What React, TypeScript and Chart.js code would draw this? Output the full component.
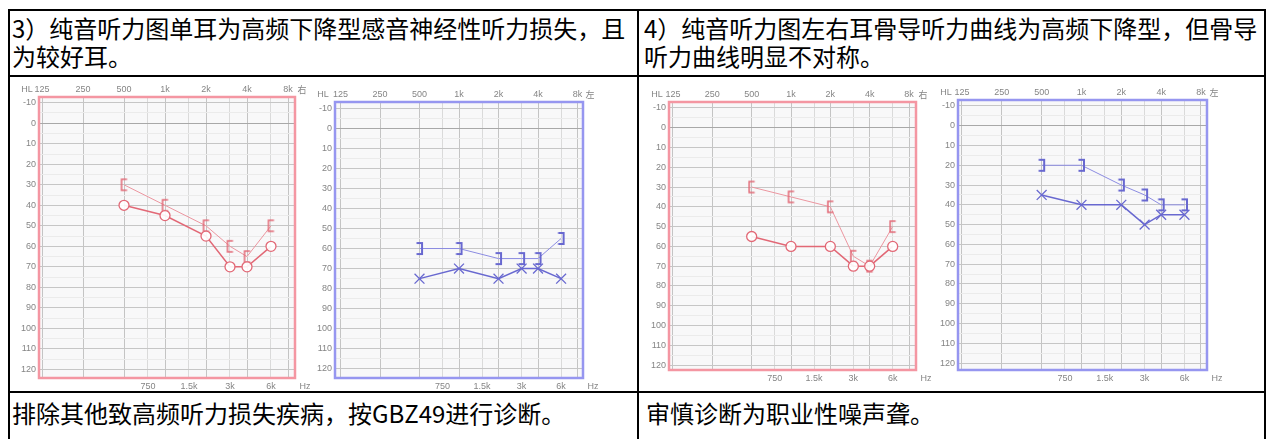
import React, { useEffect, useRef } from "react";
import { Chart, registerables } from "chart.js";

Chart.register(...registerables);

// ---------- data ----------
const freqs = [500, 1000, 2000, 3000, 4000, 6000];

const case3RightAir = [40, 45, 55, 70, 70, 60];
const case3RightBone = [30, 40, 50, 60, 65, 50];
const case3LeftAir = [75, 70, 75, 70, 70, 75];
const case3LeftBone = [60, 60, 65, 65, 65, 55];

const case4RightAir = [55, 60, 60, 70, 70, 60];
const case4RightBone = [30, 35, 40, 65, 70, 50];
const case4LeftAir = [35, 40, 40, 50, 45, 45];
const case4LeftBone = [20, 20, 30, 35, 40, 40];

const octaveFreqs = [125, 250, 500, 1000, 2000, 4000, 8000];
const octaveLabels = ["125", "250", "500", "1k", "2k", "4k", "8k"];
const midFreqs = [750, 1500, 3000, 6000];
const midLabels = ["750", "1.5k", "3k", "6k"];
const dbTicks = [-10, -5, 0, 5, 10, 15, 20, 25, 30, 35, 40, 45, 50, 55, 60, 65, 70, 75, 80, 85, 90, 95, 100, 105, 110, 115, 120];

const text3Title = "3）纯音听力图单耳为高频下降型感音神经性听力损失，且\n为较好耳。";
const text4Title = "4）纯音听力图左右耳骨导听力曲线为高频下降型，但骨导\n听力曲线明显不对称。";
const text3Note = "排除其他致高频听力损失疾病，按GBZ49进行诊断。";
const text4Note = "审慎诊断为职业性噪声聋。";

// ---------- layout / style ----------
const RED = "rgb(226,104,118)";
const RED_LIGHT = "rgb(236,150,160)";
const RED_FRAME = "rgb(244,150,162)";
const BLUE = "rgb(104,104,208)";
const BLUE_LIGHT = "rgb(140,140,226)";
const BLUE_FRAME = "rgb(150,150,240)";

type Panel = {
  ear: "right" | "left";
  air: number[];
  bone: number[];
  box: { x: number; y: number; w: number; h: number };
  plot: { l: number; t: number; r: number; b: number };
  xMin: number;
  xMax: number;
  yMin: number;
  yMax: number;
};

const panels: Panel[] = [
  { ear: "right", air: case3RightAir, bone: case3RightBone, box: { x: 11, y: 78, w: 299, h: 313 }, plot: { l: 39, t: 97, r: 295, b: 378 }, xMin: 118.8, xMax: 9004, yMin: -12.8, yMax: 124.2 },
  { ear: "left", air: case3LeftAir, bone: case3LeftBone, box: { x: 310, y: 78, w: 292, h: 313 }, plot: { l: 335, t: 102, r: 583, b: 378 }, xMin: 113.5, xMax: 8809, yMin: -13, yMax: 124.5 },
  { ear: "right", air: case4RightAir, bone: case4RightBone, box: { x: 640, y: 78, w: 296, h: 313 }, plot: { l: 669, t: 102, r: 916, b: 370 }, xMin: 116.5, xMax: 9049, yMin: -13, yMax: 122.5 },
  { ear: "left", air: case4LeftAir, bone: case4LeftBone, box: { x: 936, y: 78, w: 328, h: 313 }, plot: { l: 958, t: 100, r: 1207, b: 370 }, xMin: 116.6, xMax: 8884, yMin: -13, yMax: 123.5 },
];

const YW = 20;
const TH = 14;
const BH = 12;
const tickFont = { family: "'Liberation Sans', Arial, sans-serif", size: 9 };
const tickColor = "#858585";

function makeBracket(color: string, kind: "[" | "]", lw: number) {
  const c = document.createElement("canvas");
  c.width = 11;
  c.height = 15;
  const g = c.getContext("2d")!;
  g.strokeStyle = color;
  g.lineWidth = lw;
  g.beginPath();
  if (kind === "[") {
    g.moveTo(8.5, 2);
    g.lineTo(3, 2);
    g.lineTo(3, 13);
    g.lineTo(8.5, 13);
  } else {
    g.moveTo(2.5, 2);
    g.lineTo(8, 2);
    g.lineTo(8, 13);
    g.lineTo(2.5, 13);
  }
  g.stroke();
  return c;
}

function Audiogram({ panel }: { panel: Panel }) {
  const ref = useRef<HTMLCanvasElement>(null);
  useEffect(() => {
    const right = panel.ear === "right";
    const main = right ? RED : BLUE;
    const light = right ? RED_LIGHT : BLUE_LIGHT;
    const frameColor = right ? RED_FRAME : BLUE_FRAME;
    const bracket = right ? makeBracket(RED, "[", 1.5) : makeBracket(BLUE, "]", 2);
    const earLabel = right ? "右" : "左";

    const framePlugin = {
      id: "frame",
      beforeDraw(chart: any) {
        const { ctx, chartArea: a } = chart;
        ctx.save();
        ctx.fillStyle = "#f8f8f9";
        ctx.fillRect(a.left, a.top, a.right - a.left, a.bottom - a.top);
        ctx.restore();
      },
      beforeDatasetsDraw(chart: any) {
        const { ctx, chartArea: a } = chart;
        ctx.save();
        ctx.strokeStyle = frameColor;
        ctx.lineWidth = 2.5;
        ctx.strokeRect(a.left, a.top, a.right - a.left, a.bottom - a.top);
        ctx.fillStyle = tickColor;
        ctx.textBaseline = "middle";
        ctx.textAlign = "center";
        ctx.font = "9px 'Liberation Sans', Arial, sans-serif";
        ctx.fillText("HL", a.left - 12, a.top - 7.5);
        ctx.fillText("Hz", a.right + 10, a.bottom + 8.5);
        ctx.font = "9px 'Noto Sans CJK SC', sans-serif";
        ctx.fillText(earLabel, a.right + 7, a.top - 7.5);
        ctx.restore();
      },
    };

    const p = panel;
    const chart = new Chart(ref.current!, {
      type: "line",
      data: {
        datasets: [
          {
            data: freqs.map((f, i) => ({ x: f, y: p.air[i] })),
            borderColor: main,
            borderWidth: 1.5,
            pointStyle: right ? "circle" : "crossRot",
            pointRadius: right ? 5 : 7,
            pointBorderWidth: 1.3,
            pointBorderColor: main,
            pointBackgroundColor: "rgba(255,255,255,0.9)",
            tension: 0,
            fill: false,
            clip: 10,
          } as any,
          {
            data: freqs.map((f, i) => ({ x: f, y: p.bone[i] })),
            borderColor: light,
            borderWidth: 1,
            pointStyle: bracket,
            pointRadius: 5,
            tension: 0,
            fill: false,
            clip: 10,
          } as any,
        ],
      },
      options: {
        responsive: false,
        maintainAspectRatio: false,
        animation: false,
        devicePixelRatio: 1,
        events: [],
        layout: {
          padding: {
            left: p.plot.l - p.box.x - YW,
            top: p.plot.t - p.box.y - TH,
            right: p.box.x + p.box.w - p.plot.r,
            bottom: p.box.y + p.box.h - p.plot.b - BH,
          },
        },
        plugins: { legend: { display: false }, tooltip: { enabled: false } },
        scales: {
          x: {
            type: "logarithmic",
            position: "top",
            min: p.xMin,
            max: p.xMax,
            bounds: "data",
            afterBuildTicks: (s: any) => {
              s.ticks = octaveFreqs.map((v) => ({ value: v }));
            },
            afterFit: (s: any) => {
              s.height = TH;
            },
            ticks: {
              autoSkip: false,
              maxRotation: 0,
              padding: 2,
              font: tickFont,
              color: tickColor,
              callback: (_v: any, i: number) => octaveLabels[i],
            },
            grid: { color: "#c4c4c4", drawTicks: false, lineWidth: 1 },
            border: { display: false },
          },
          x2: {
            type: "logarithmic",
            axis: "x",
            position: "bottom",
            min: p.xMin,
            max: p.xMax,
            bounds: "data",
            afterBuildTicks: (s: any) => {
              s.ticks = midFreqs.map((v) => ({ value: v }));
            },
            afterFit: (s: any) => {
              s.height = BH;
            },
            ticks: {
              autoSkip: false,
              maxRotation: 0,
              padding: 3,
              font: tickFont,
              color: tickColor,
              callback: (_v: any, i: number) => midLabels[i],
            },
            grid: { color: "#dadada", drawTicks: false, lineWidth: 1 },
            border: { display: false },
          },
          y: {
            type: "linear",
            reverse: true,
            min: p.yMin,
            max: p.yMax,
            bounds: "data",
            afterBuildTicks: (s: any) => {
              s.ticks = dbTicks.map((v) => ({ value: v }));
            },
            afterFit: (s: any) => {
              s.width = YW;
            },
            ticks: {
              autoSkip: false,
              padding: 3,
              font: tickFont,
              color: tickColor,
              callback: (v: any) => (Number(v) % 10 === 0 ? String(v) : ""),
            },
            grid: {
              drawTicks: false,
              color: (ctx: any) => {
                const v = ctx.tick ? ctx.tick.value : 0;
                if (v === 0) return "#a8a8a8";
                return v % 10 === 0 ? "#c6c6c6" : "#ebebeb";
              },
            },
            border: { display: false },
          },
        },
      } as any,
      plugins: [framePlugin],
    });
    return () => chart.destroy();
  }, [panel]);
  return (
    <canvas
      ref={ref}
      width={panel.box.w}
      height={panel.box.h}
      style={{ position: "absolute", left: panel.box.x, top: panel.box.y, width: panel.box.w, height: panel.box.h }}
    />
  );
}

const line = (x: number, y: number, w: number, h: number, key: string) => (
  <div key={key} style={{ position: "absolute", left: x, top: y, width: w, height: h, background: "#000" }} />
);

const textStyle: React.CSSProperties = {
  position: "absolute",
  fontFamily: "'Noto Sans CJK SC', sans-serif",
  fontSize: 24,
  lineHeight: "27.5px",
  whiteSpace: "pre",
  color: "#000",
};

export default function App() {
  return (
    <div style={{ position: "absolute", left: 0, top: 0, width: 1268, height: 439, overflow: "hidden", background: "#fff" }}>
      <div style={{ ...textStyle, left: 12, top: 14 }}>{text3Title}</div>
      <div style={{ ...textStyle, left: 644, top: 14 }}>{text4Title}</div>
      <div style={{ ...textStyle, left: 12, top: 399 }}>{text3Note}</div>
      <div style={{ ...textStyle, left: 646, top: 399 }}>{text4Note}</div>
      {panels.map((p, i) => (
        <Audiogram key={i} panel={p} />
      ))}
      {line(8, 9, 1258, 2, "top")}
      {line(8, 9, 2, 430, "left")}
      {line(1264, 9, 2, 430, "right")}
      {line(637, 9, 2, 430, "mid")}
      {line(8, 75, 1258, 2, "r1")}
      {line(8, 391, 1258, 2, "r2")}
    </div>
  );
}
